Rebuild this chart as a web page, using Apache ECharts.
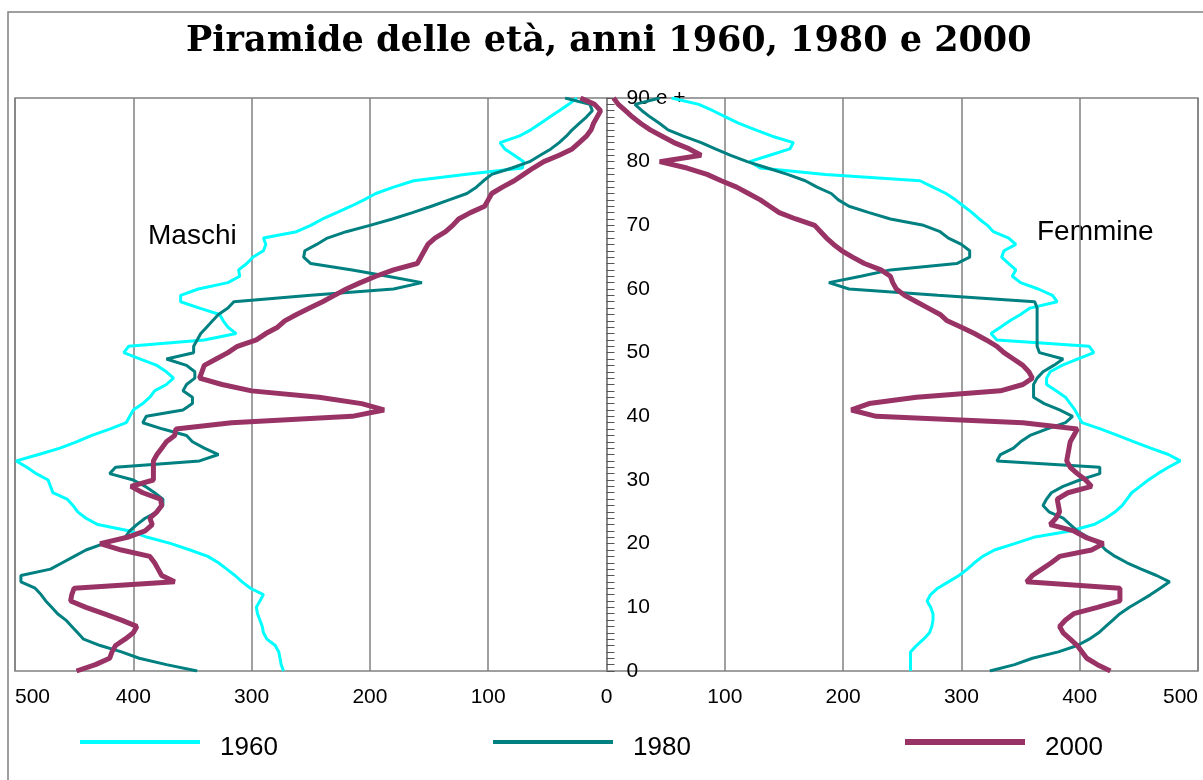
<!DOCTYPE html>
<html>
<head>
<meta charset="utf-8">
<script src="https://cdn.jsdelivr.net/npm/echarts@6/dist/echarts.min.js"></script>
<style>
html,body{margin:0;padding:0;background:#fff;}
#chart{width:1203px;height:780px;}
</style>
</head>
<body>
<div id="chart"></div>
<script>
// Ages (years), 90 = "90 e +"
const ages = [0,1,2,3,4,5,6,7,8,9,10,11,12,13,14,15,16,17,18,19,20,21,22,23,24,25,26,27,28,29,30,31,32,33,34,35,36,37,38,39,40,41,42,43,44,45,46,47,48,49,50,51,52,53,54,55,56,57,58,59,60,61,62,63,64,65,66,67,68,69,70,71,72,73,74,75,76,77,78,79,80,81,82,83,84,85,86,87,88,89,90];

// Maschi (males), thousands
const maschi1960 = [273,275,276,277,280,287,290,291,293,295,296,293,290,301,308,314,321,328,337,352,368,388,403,430,440,447,451,456,468,470,472,482,490,499,480,462,448,435,420,406,403,400,392,386,382,372,366,372,380,394,408,404,340,313,320,324,327,344,360,360,345,320,310,311,304,299,290,288,290,262,250,240,228,216,205,195,180,163,120,71,70,78,86,90,74,64,56,48,40,32,25];
const maschi1980 = [346,372,395,410,428,442,447,452,457,464,469,474,478,483,495,495,470,460,450,440,425,407,403,397,390,380,375,375,382,390,400,420,415,344,328,340,350,355,375,392,389,358,350,350,358,355,348,348,355,372,349,349,346,343,338,333,328,320,315,250,180,156,185,215,250,256,255,245,236,220,200,181,164,148,133,118,110,104,97,80,65,56,47,40,34,29,23,17,12,14,35];
const maschi2000 = [448,432,420,418,415,407,400,397,410,425,440,453,452,450,365,376,379,382,386,410,428,405,390,384,386,380,376,377,392,402,383,383,383,383,380,376,372,365,364,317,215,188,207,243,300,325,344,342,340,330,320,312,296,288,278,272,262,251,240,230,220,208,195,180,160,157,154,151,145,136,130,125,115,103,100,97,88,78,70,62,53,40,29,23,17,13,11,8,5,10,22];

// Femmine (females), thousands
const femmine1960 = [257,257,257,257,262,268,273,275,276,276,274,271,274,280,289,298,305,311,318,328,345,361,392,412,422,430,436,440,444,451,458,466,475,485,475,460,446,432,418,402,399,396,392,388,380,372,372,375,385,398,412,408,330,325,333,341,350,358,381,377,365,350,343,346,340,334,336,346,340,327,322,315,309,302,295,287,276,265,185,130,121,138,155,158,140,126,112,101,90,78,55];
const femmine1980 = [324,345,360,382,398,408,416,422,428,434,442,451,460,468,476,465,452,440,430,422,417,407,398,392,386,374,369,372,376,386,400,417,417,330,333,344,350,358,372,388,394,383,370,361,361,361,364,369,378,386,366,364,364,364,364,364,364,364,362,280,205,188,215,240,296,307,307,300,289,282,268,240,222,205,196,190,178,168,153,136,119,105,92,80,65,52,45,37,30,24,45];
const femmine2000 = [426,415,406,402,398,392,386,383,388,395,415,434,434,434,355,360,368,376,383,410,420,405,395,375,380,383,382,381,390,410,405,398,392,389,390,391,392,395,398,352,228,207,222,262,333,352,360,357,352,344,336,330,321,311,300,288,282,272,262,252,245,242,240,232,218,208,199,192,186,181,176,160,146,138,130,120,110,97,85,68,45,80,70,57,47,37,29,22,16,10,6];

const years = ['1960','1980','2000'];
const topAgeLabel = '90 e +';

const colors = {'1960':'#00FFFF','1980':'#008080','2000':'#993366'};
const widths = {'1960':3,'1980':3,'2000':5};

function side(vals, sign){ return ages.map((a,i)=>[sign*vals[i], a]); }

const sets = [
  ['1960', maschi1960, femmine1960],
  ['1980', maschi1980, femmine1980],
  ['2000', maschi2000, femmine2000]
];
const series = [];
sets.forEach(([y, m, f]) => {
  [[m,-1],[f,1]].forEach(([vals, sign]) => {
    series.push({
      name: y, type: 'line', data: side(vals, sign),
      color: colors[y], symbol: 'none', showSymbol: false, smooth: false,
      lineStyle: {color: colors[y], width: widths[y]},
      emphasis: {disabled: true}, animation: false
    });
  });
});

const legendLefts = [75, 488, 900];
const legends = years.map((y, i) => ({
  data: [y], left: legendLefts[i], top: 730, orient: 'horizontal',
  icon: 'rect', itemWidth: 120, itemHeight: widths[y] + 1,
  selectedMode: false,
  formatter: '{t|{name}}',
  textStyle: {
    fontSize: 26, fontFamily: 'Liberation Sans', color: '#000',
    rich: {t: {fontSize: 26, fontFamily: 'Liberation Sans', color: '#000', padding: [12, 0, 0, 15]}}
  }
}));

const gridLeft = 15, gridWidth = 1183;

const chart = echarts.init(document.getElementById('chart'), null, {renderer: 'canvas'});
chart.setOption({
  animation: false,
  backgroundColor: '#fff',
  title: {
    text: 'Piramide delle età, anni 1960, 1980 e 2000',
    left: 186, top: 24, padding: 0,
    textStyle: {fontFamily: 'DejaVu Serif', fontWeight: 'bold', fontSize: 35, color: '#000'}
  },
  legend: legends,
  grid: {left: gridLeft, top: 98, width: gridWidth, height: 573, show: true, borderColor: '#808080', borderWidth: 1.5, containLabel: false},
  xAxis: {
    type: 'value', min: -500, max: 500, interval: 100,
    axisLine: {show: false}, axisTick: {show: false},
    axisLabel: {formatter: v => Math.abs(v), fontSize: 21, color: '#000', margin: 16, fontFamily: 'Liberation Sans', alignMinLabel: 'left', alignMaxLabel: 'right'},
    splitLine: {show: true, lineStyle: {color: '#808080', width: 1.5}}
  },
  yAxis: {
    type: 'value', min: 0, max: 90, interval: 10,
    position: 'left', offset: -gridWidth / 2,
    axisLine: {show: true, onZero: false, lineStyle: {color: '#808080', width: 1.5}},
    axisTick: {show: true, inside: true, length: 8, lineStyle: {color: '#555'}},
    minorTick: {show: true, splitNumber: 10, length: 8, lineStyle: {color: '#555'}},
    axisLabel: {inside: true, margin: 20, fontSize: 21, color: '#000', fontFamily: 'Liberation Sans', formatter: v => v === 90 ? topAgeLabel : String(v)},
    splitLine: {show: false}
  },
  graphic: [
    {type: 'rect', x: 8, y: 12, shape: {x: 0, y: 0, width: 1200, height: 775}, style: {fill: null, stroke: '#808080', lineWidth: 1.5}, z: -10, silent: true},
    {type: 'text', x: 148, y: 236, style: {text: 'Maschi', fontSize: 28, fontFamily: 'Liberation Sans', fill: '#000', verticalAlign: 'middle', textVerticalAlign: 'middle'}, silent: true},
    {type: 'text', x: 1037, y: 232, style: {text: 'Femmine', fontSize: 28, fontFamily: 'Liberation Sans', fill: '#000', verticalAlign: 'middle', textVerticalAlign: 'middle'}, silent: true}
  ],
  series: series
});
</script>
</body>
</html>
